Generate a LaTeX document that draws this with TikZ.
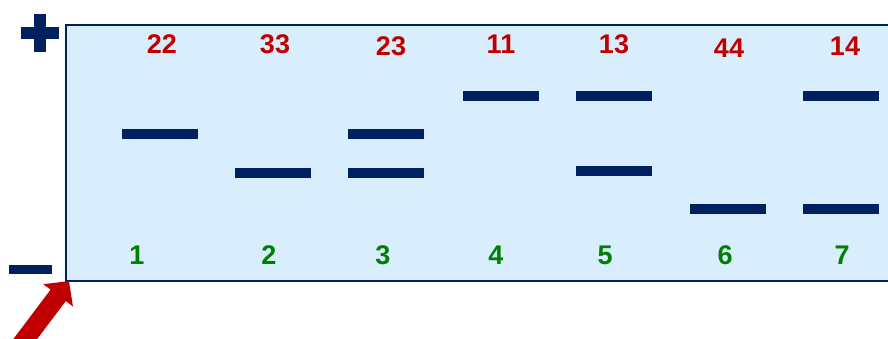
\documentclass[tikz,border=0pt]{standalone}
\usepackage{fontspec}
\setmainfont{Liberation Sans}
\usetikzlibrary{
  arrows.meta,
  positioning
}
\definecolor{GelBlue}{RGB}{217,238,252}
\definecolor{NavyBand}{RGB}{0,32,96}
\definecolor{SizeRed}{RGB}{192,0,0}
\definecolor{LaneGreen}{RGB}{0,128,0}
\tikzset{
  %%── gel ────────────────────────────────────────────────
  gelbody/.style = {fill = GelBlue},
  geledge/.style = {draw = NavyBand, line width = 2pt},
  %%── bands ──────────────────────────────────────────────
  band/.style = {
    rectangle, fill = NavyBand, inner sep = 0pt,
    minimum width = 76pt, minimum height = 10pt
  },
  %%── labels ─────────────────────────────────────────────
  sizelbl/.style = {
    inner sep = 0pt, text = SizeRed,
    font = \fontsize{27}{27}\selectfont\bfseries
  },
  lanelbl/.style = {
    inner sep = 0pt, text = LaneGreen,
    font = \fontsize{27}{27}\selectfont\bfseries
  },
  %%── poles and loading arrow ────────────────────────────
  pole/.style = {rectangle, fill = NavyBand, inner sep = 0pt},
  loadarr/.style = {
    -{Triangle[width = 36pt, length = 18pt]},
    line width = 19pt, color = SizeRed
  },
}

\begin{document}
\begin{tikzpicture}[x = 1pt, y = -1pt]
  \useasboundingbox (0,0) rectangle (888,338);
  % gel
  \fill[gelbody] (66,25) rectangle (888,281);
  \draw[geledge] (888,25) -- (66,25) -- (66,281) -- (888,281);
  \coordinate (well) at (69,281);
  % poles
  \node[pole, minimum width = 38pt, minimum height = 12pt] (plush) at (40,33) {};
  \node[pole, minimum width = 12pt, minimum height = 38pt] (plusv) at (40,33) {};
  \node[pole, minimum width = 43pt, minimum height = 9pt] (minus) at (30.5,269) {};
  % sizes
  \node[sizelbl] (s1) at (162,44.5) {22};
  \node[sizelbl] (s2) at (275,44.5) {33};
  \node[sizelbl] (s3) at (391,46.5) {23};
  \node[sizelbl] (s4) at (501,44.5) {11};
  \node[sizelbl] (s5) at (614,44.5) {13};
  \node[sizelbl] (s6) at (729,48.5) {44};
  \node[sizelbl] (s7) at (845,46.5) {14};
  % bands
  \node[band] (b1a) at (160,133.5) {};
  \node[band] (b2a) at (273,172.5) {};
  \node[band] (b3a) at (386,133.5) {};
  \node[band] (b3b) at (386,172.5) {};
  \node[band] (b4a) at (501,96) {};
  \node[band] (b5a) at (614,96) {};
  \node[band] (b5b) at (614,170.5) {};
  \node[band] (b6a) at (727.5,209) {};
  \node[band] (b7a) at (841,96) {};
  \node[band] (b7b) at (841,209) {};
  % lanes
  \node[lanelbl] (l1) at (137,255.5) {1};
  \node[lanelbl] (l2) at (269,255.5) {2};
  \node[lanelbl] (l3) at (383,255.5) {3};
  \node[lanelbl] (l4) at (496,255.5) {4};
  \node[lanelbl] (l5) at (605,255.5) {5};
  \node[lanelbl] (l6) at (725,255.5) {6};
  \node[lanelbl] (l7) at (842,255.5) {7};
  % loading arrow
  \coordinate (tail) at (17,350);
  \draw[loadarr] (tail) -- (well);
\end{tikzpicture}
\end{document}
